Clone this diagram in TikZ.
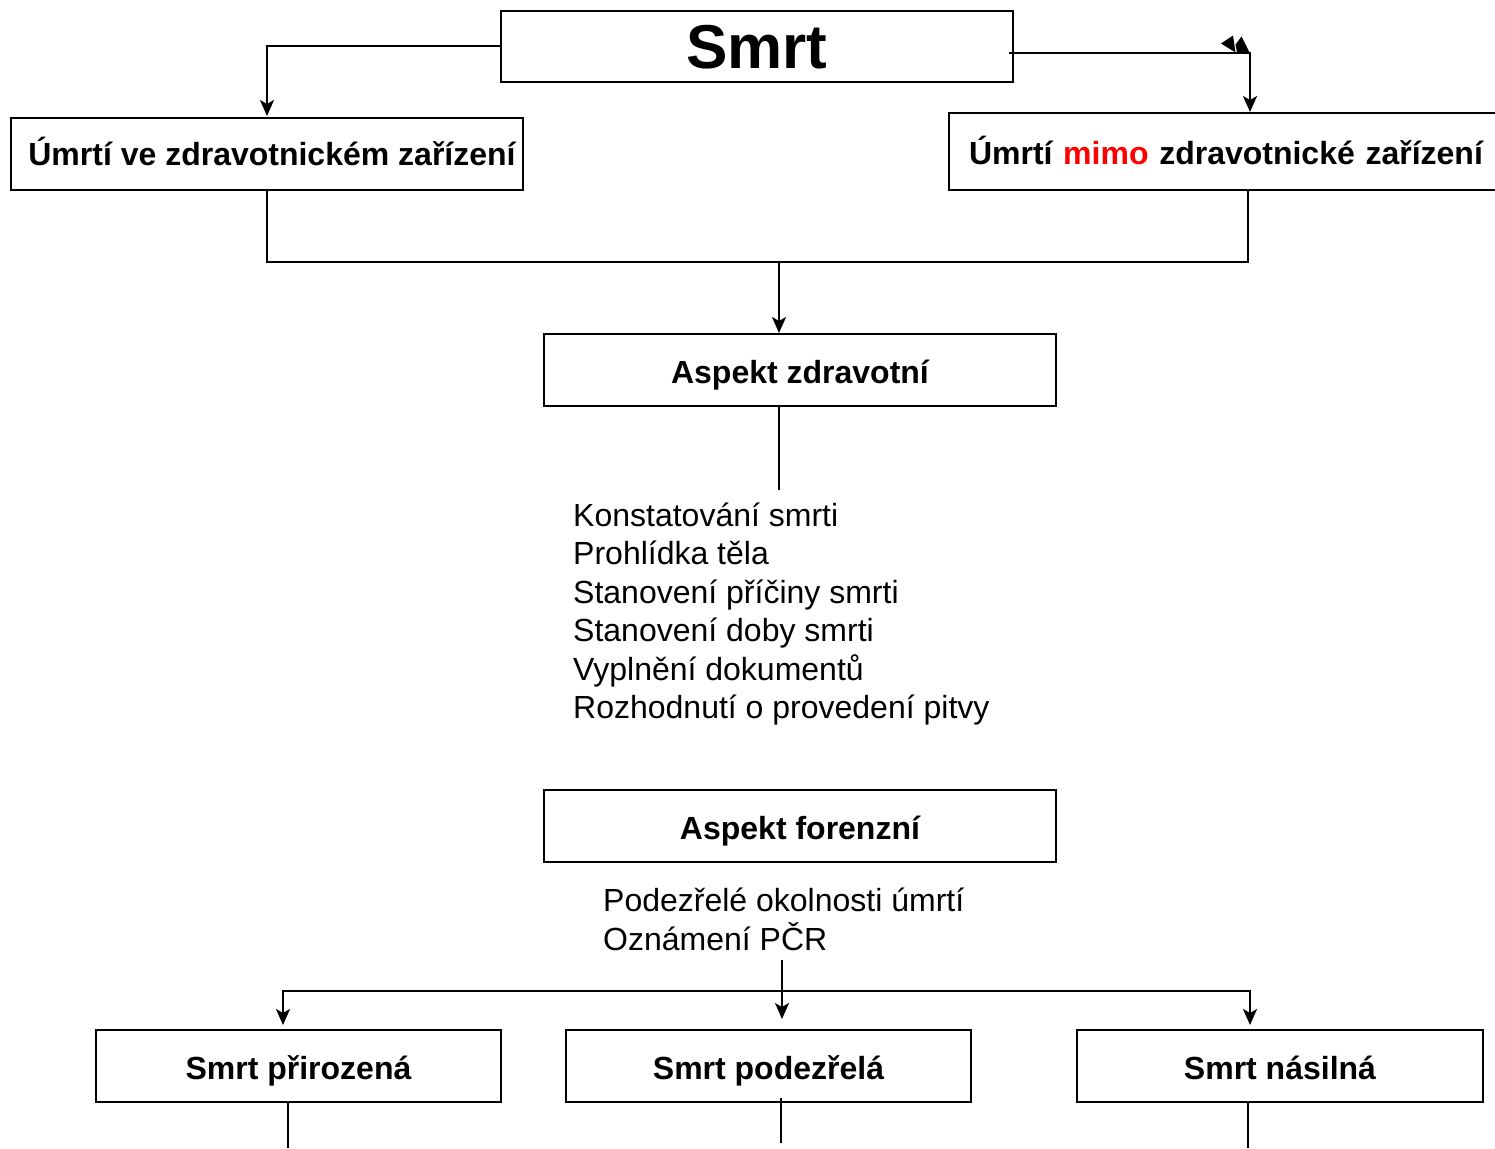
\documentclass[tikz,border=0pt]{standalone}
\usepackage{fontspec}
\setmainfont{Liberation Sans}
\usetikzlibrary{arrows.meta}
\definecolor{mimored}{RGB}{255,0,0}
\tikzset{
  box/.style={draw, line width=2pt, inner sep=0pt, font=\fontsize{32}{38.4}\selectfont\bfseries,
    text height=23pt, text depth=0pt},
  lowbox/.style={box, text height=27pt},
  arr/.style={-{Stealth[length=16pt,width=14pt,inset=4pt]}},
  conn/.style={line width=2pt},
  item/.style={anchor=base west, inner sep=0pt, font=\fontsize{32}{38.4}\selectfont},
}
\begin{document}
\begin{tikzpicture}[x=1pt,y=-1pt]
\useasboundingbox (0,0) rectangle (1495,1148);
% boxes
\node[box, minimum width=512pt, minimum height=71pt, text height=44pt,
      font=\fontsize{62}{70}\selectfont\bfseries] (smrt) at (757,46.5) {Smrt};
\node[box, minimum width=512pt, minimum height=72pt] (ve) at (267,154) {\hspace*{10pt}Úmrtí ve zdravotnickém zařízení};
\node[box, anchor=west, minimum width=570pt, minimum height=77pt, text width=530pt, align=left,
      inner xsep=20pt, text height=25pt] (mimo) at (948,151.5) {Úmrtí \textcolor{mimored}{mimo} zdravotnické zařízení};
\node[lowbox, minimum width=512pt, minimum height=72pt] (zdr) at (800,370) {Aspekt zdravotní};
\node[lowbox, minimum width=512pt, minimum height=72pt] (for) at (800,826) {Aspekt forenzní};
\node[lowbox, minimum width=405pt, minimum height=72pt] (pri) at (298.5,1066) {Smrt přirozená};
\node[lowbox, minimum width=405pt, minimum height=72pt] (pod) at (768.5,1066) {Smrt podezřelá};
\node[lowbox, minimum width=406pt, minimum height=72pt] (nas) at (1280,1066) {Smrt násilná};
% lists
\node[item] (l1) at (573,526.5) {Konstatování smrti};
\node[item] (l2) at (573,564.9) {Prohlídka těla};
\node[item] (l3) at (573,603.3) {Stanovení příčiny smrti};
\node[item] (l4) at (573,641.7) {Stanovení doby smrti};
\node[item] (l5) at (573,680.1) {Vyplnění dokumentů};
\node[item] (l6) at (573,718.5) {Rozhodnutí o provedení pitvy};
\node[item] (f1) at (603,911) {Podezřelé okolnosti úmrtí};
\node[item] (f2) at (603,950) {Oznámení PČR};
% coordinates
\coordinate (j) at (779,262);
\coordinate (lend) at (779,490);
\coordinate (fs) at (782,960);
\coordinate (h) at (782,991);
\coordinate (e1) at (288,1148);
\coordinate (e2) at (781,1143);
\coordinate (e3) at (1248,1148);
% connectors
\draw[conn, arr] (smrt.west) -| ([yshift=1pt]ve.north);
\draw[conn, arr] ([shift={(-5pt,-6.5pt)}]smrt.east) -| ([xshift=302pt]mimo.north west);
\fill (1221,43.5) -- (1233,35.5) -- (1235.5,52.5) -- cycle;
\fill (1235.5,44.5) -- (1241.5,36.5) -- (1250,53.5) -- (1237,52.5) -- cycle;
\draw[conn] (ve.south) |- (j) -| ([xshift=300pt]mimo.south west);
\draw[conn, arr] (j) -- (j |- zdr.north);
\draw[conn] (zdr.south -| j) -- (lend);
\draw[conn, arr] (fs) -- ([yshift=10pt]fs |- pod.north);
\draw[conn, arr] (h) -| ([yshift=4pt]pri.north -| 283,0);
\draw[conn, arr] (h) -| ([yshift=4pt]nas.north -| 1250,0);
\draw[conn] (pri.south -| e1) -- (e1);
\draw[conn] ([yshift=5pt]pod.south -| e2) -- (e2);
\draw[conn] (nas.south -| e3) -- (e3);
\end{tikzpicture}
\end{document}
